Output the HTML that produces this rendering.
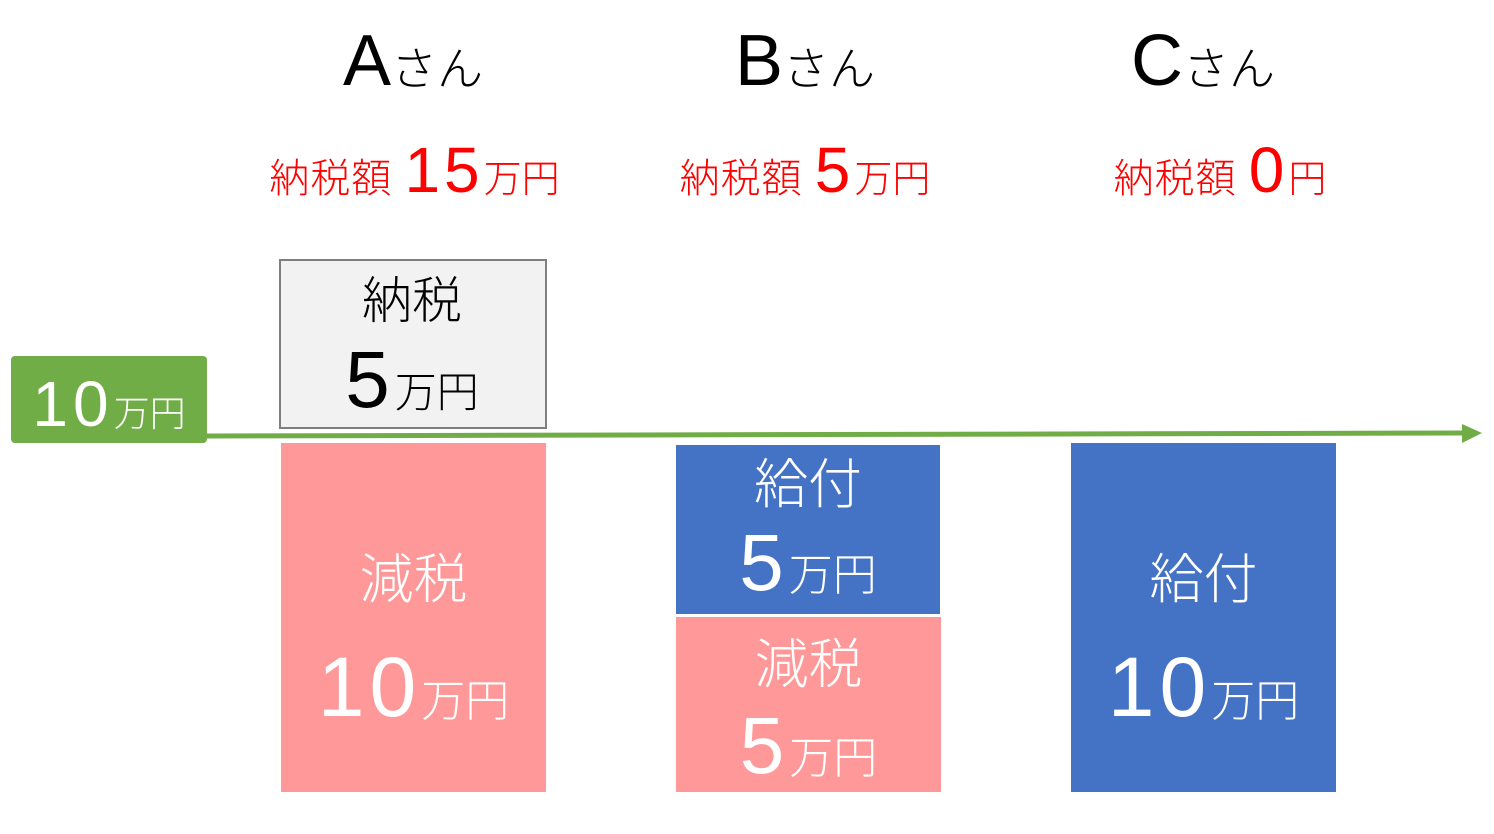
<!DOCTYPE html>
<html><head><meta charset="utf-8"><style>
body{margin:0;width:1494px;height:834px;background:#fff;position:relative;overflow:hidden;font-family:"Liberation Sans","Noto Sans CJK JP",sans-serif;font-weight:300;}
.a{position:absolute;}
.c{position:absolute;text-align:center;white-space:nowrap;line-height:1;}
.big{font-size:72px;}
.red{color:#ff0000;}
.jp{font-size:40px;letter-spacing:1px;}
.num{font-size:64px;letter-spacing:4px;}
.d{letter-spacing:5px;}
.w{color:#fff;}
</style></head><body>
<div class="c" style="left:313px;top:25px;width:200px"><span class="big">A</span><span style="font-size:46px">さん</span></div>
<div class="c" style="left:705px;top:25px;width:200px"><span class="big">B</span><span style="font-size:46px">さん</span></div>
<div class="c" style="left:1103px;top:25px;width:200px"><span class="big">C</span><span style="font-size:46px">さん</span></div>

<div class="c red" style="left:263px;top:138px;width:303px"><span class="jp">納税額 </span><span class="num">15</span><span style="font-size:38px">万円</span></div>
<div class="c red" style="left:672px;top:138px;width:266px"><span class="jp">納税額 </span><span class="num">5</span><span style="font-size:38px">万円</span></div>
<div class="c red" style="left:1105px;top:138px;width:230px"><span class="jp">納税額 </span><span class="num">0</span><span style="font-size:38px">円</span></div>

<div class="a" style="left:279px;top:259px;width:268px;height:170px;background:#f2f2f2;border:2px solid #7f7f7f;box-sizing:border-box"></div>
<div class="c" style="left:279px;top:276px;width:266px;font-size:50px">納税</div>
<div class="c" style="left:279px;top:340px;width:266px"><span class="d" style="font-size:80px">5</span><span style="font-size:42px">万円</span></div>

<div class="a" style="left:11px;top:356px;width:196px;height:87px;background:#70ad47;border-radius:4px"></div>
<div class="c w" style="left:11px;top:372px;width:196px"><span class="d" style="font-size:64px">10</span><span style="font-size:36px">万円</span></div>

<svg class="a" style="left:0;top:0" width="1494" height="834"><line x1="205" y1="436" x2="1464" y2="433" stroke="#70ad47" stroke-width="5"/><polygon points="1462,424 1482,433 1462,443" fill="#70ad47"/></svg>

<div class="a" style="left:281px;top:443px;width:265px;height:349px;background:#ff9999"></div>
<div class="c w" style="left:281px;top:553px;width:265px;font-size:54px">減税</div>
<div class="c w" style="left:281px;top:645px;width:265px"><span class="d" style="font-size:84px">10</span><span style="font-size:44px">万円</span></div>

<div class="a" style="left:676px;top:445px;width:264px;height:169px;background:#4472c4"></div>
<div class="c w" style="left:676px;top:458px;width:264px;font-size:54px">給付</div>
<div class="c w" style="left:676px;top:523px;width:264px"><span class="d" style="font-size:80px">5</span><span style="font-size:44px">万円</span></div>
<div class="a" style="left:676px;top:617px;width:265px;height:175px;background:#ff9999"></div>
<div class="c w" style="left:676px;top:638px;width:265px;font-size:54px">減税</div>
<div class="c w" style="left:676px;top:706px;width:265px"><span class="d" style="font-size:80px">5</span><span style="font-size:44px">万円</span></div>

<div class="a" style="left:1071px;top:443px;width:265px;height:349px;background:#4472c4"></div>
<div class="c w" style="left:1071px;top:553px;width:265px;font-size:54px">給付</div>
<div class="c w" style="left:1071px;top:645px;width:265px"><span class="d" style="font-size:84px">10</span><span style="font-size:44px">万円</span></div>
</body></html>
